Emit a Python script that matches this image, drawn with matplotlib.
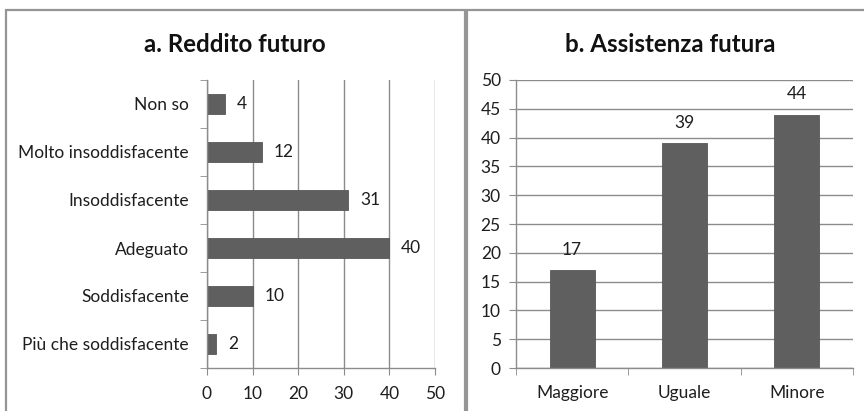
import matplotlib
matplotlib.use("Agg")
import matplotlib.pyplot as plt
from matplotlib.patches import Rectangle
from matplotlib.ticker import FixedLocator, NullFormatter

plt.rcParams['font.family'] = ['Lato', 'DejaVu Sans']

# Panel a: future income assessment (top to bottom)
reddito_categorie = ["Non so", "Molto insoddisfacente", "Insoddisfacente",
                     "Adeguato", "Soddisfacente", "Più che soddisfacente"]
reddito_valori = [4, 12, 31, 40, 10, 2]

# Panel b: future assistance
assistenza_categorie = ["Maggiore", "Uguale", "Minore"]
assistenza_valori = [17, 39, 44]

BAR = "#5f5f5f"
GRID = "#8c8c8c"
TXT = "#1e1e1e"
BORDER = "#959595"
FS = 12.5

W, H = 864, 411
fig = plt.figure(figsize=(W / 100, H / 100), dpi=100)
fig.patch.set_facecolor("white")

# Panel frames
for x0, x1 in [(6, 465), (467, 900)]:
    fig.add_artist(Rectangle((x0 / W, -0.1), (x1 - x0) / W, 1.1 - 10 / H,
                             transform=fig.transFigure, fill=False,
                             edgecolor=BORDER, linewidth=1.6, clip_on=False))

def style_axes(ax):
    for s in ["top", "right"]:
        ax.spines[s].set_visible(False)
    for s in ["left", "bottom"]:
        ax.spines[s].set_color(GRID)
        ax.spines[s].set_linewidth(1.0)
    ax.set_axisbelow(True)

# ---- Panel a ----
ax1 = fig.add_axes([207 / W, 1 - 368 / H, (435 - 207) / W, (368 - 80) / H])
y = list(range(len(reddito_categorie)))
ax1.barh(y, reddito_valori, height=0.4, color=BAR, edgecolor="#575757", linewidth=0.6)
ax1.set_xlim(0, 50)
ax1.set_ylim(len(y) - 0.5, -0.5)
ax1.set_xticks(range(0, 51, 10))
ax1.set_yticks(y)
ax1.set_yticklabels(reddito_categorie)
ax1.yaxis.set_minor_locator(FixedLocator([i - 0.5 for i in range(len(y) + 1)]))
ax1.yaxis.set_minor_formatter(NullFormatter())
ax1.tick_params(axis="y", which="major", length=0, pad=13, labelsize=FS, labelcolor=TXT)
ax1.tick_params(axis="y", which="minor", length=5, color=GRID, direction="out")
ax1.tick_params(axis="x", length=5, color=GRID, labelsize=FS, labelcolor=TXT, pad=8)
ax1.grid(axis="x", color=GRID, linewidth=1.0)
style_axes(ax1)
for yi, v in zip(y, reddito_valori):
    ax1.annotate(str(v), (v, yi), xytext=(8.5, 0), textcoords="offset points",
                 ha="left", va="center", fontsize=FS, color=TXT)
fig.text(235 / W, 1 - 44 / H, "a. Reddito futuro", ha="center", va="center",
         fontsize=17.4, fontweight="bold", color="#111111")

# ---- Panel b ----
ax2 = fig.add_axes([516 / W, 1 - 368 / H, (853 - 516) / W, (368 - 80) / H])
x = list(range(len(assistenza_categorie)))
ax2.bar(x, assistenza_valori, width=0.4, color=BAR, edgecolor="#575757", linewidth=0.6)
ax2.set_ylim(0, 50)
ax2.set_xlim(-0.5, len(x) - 0.5)
ax2.set_yticks(range(0, 51, 5))
ax2.set_xticks(x)
ax2.set_xticklabels(assistenza_categorie)
ax2.xaxis.set_minor_locator(FixedLocator([i - 0.5 for i in range(len(x) + 1)]))
ax2.xaxis.set_minor_formatter(NullFormatter())
ax2.tick_params(axis="x", which="major", length=0, pad=12, labelsize=FS, labelcolor=TXT)
ax2.tick_params(axis="x", which="minor", length=5, color=GRID, direction="out")
ax2.tick_params(axis="y", length=5, color=GRID, labelsize=FS, labelcolor=TXT, pad=6)
ax2.grid(axis="y", color=GRID, linewidth=1.0)
style_axes(ax2)
for xi, v in zip(x, assistenza_valori):
    ax2.annotate(str(v), (xi, v), xytext=(0, 9), textcoords="offset points",
                 ha="center", va="bottom", fontsize=FS, color=TXT)
fig.text(670 / W, 1 - 44 / H, "b. Assistenza futura", ha="center", va="center",
         fontsize=17.4, fontweight="bold", color="#111111")

fig.savefig("out.png", dpi=100, facecolor="white")
